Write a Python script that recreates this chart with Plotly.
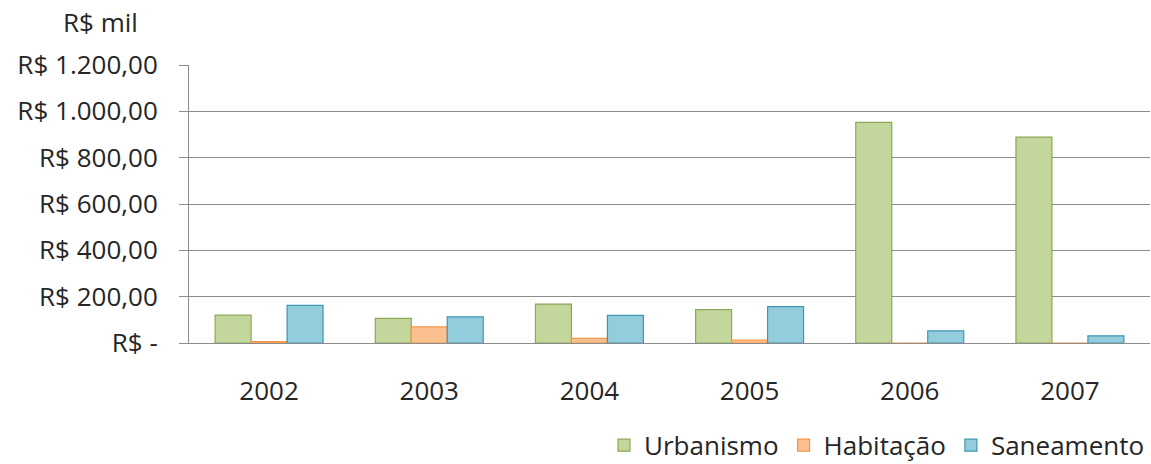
import plotly.graph_objects as go

years = ["2002", "2003", "2004", "2005", "2006", "2007"]
urbanismo = [120, 106, 168, 144, 952, 889]
habitacao = [6, 70, 20, 13, 0, 0]
saneamento = [162, 113, 119, 157, 52, 31]
tick_vals = [0, 200, 400, 600, 800, 1000, 1200]
tick_text = ["R$ -", "R$ 200,00", "R$ 400,00", "R$ 600,00", "R$ 800,00",
             "R$ 1.000,00", "R$ 1.200,00"]

FONT = "Open Sans"
TXT = "#262626"
FS = 26

fig = go.Figure()
fig.add_trace(go.Bar(name="Urbanismo", x=years, y=urbanismo,
                     marker=dict(color="#C3D69B", line=dict(color="#8EA857", width=1.2))))
fig.add_trace(go.Bar(name="Habitação", x=years, y=habitacao,
                     marker=dict(color="#FAC090", line=dict(color="#F79646", width=1.2))))
fig.add_trace(go.Bar(name="Saneamento", x=years, y=saneamento,
                     marker=dict(color="#93CDDD", line=dict(color="#3F97AE", width=1.2))))

fig.update_layout(
    width=1151, height=464,
    margin=dict(l=189, r=1, t=65, b=121, autoexpand=False),
    paper_bgcolor="white", plot_bgcolor="white",
    barmode="group", bargap=0.326, bargroupgap=0,
    font=dict(family=FONT, size=FS, color=TXT),
    showlegend=True,
    legend=dict(orientation="h", x=1.0, xanchor="right", y=-0.368, yanchor="middle",
                font=dict(size=FS, color=TXT), itemwidth=30, traceorder="normal",
                bgcolor="rgba(0,0,0,0)", tracegroupgap=0),
    annotations=[dict(text="R$ mil", xref="paper", yref="paper", x=-0.0926, y=1.0,
                      yshift=43, xanchor="center", yanchor="middle", showarrow=False,
                      font=dict(size=FS, family=FONT, color=TXT))],
)
fig.update_yaxes(range=[0, 1200], tickvals=tick_vals, ticktext=tick_text,
                 showgrid=True, gridcolor="#8C8C8C", gridwidth=1,
                 showline=True, linecolor="#8C8C8C", linewidth=1,
                 ticks="outside", ticklen=9, tickcolor="#8C8C8C",
                 ticklabelstandoff=16, zeroline=False, automargin=False)
fig.update_xaxes(showline=True, linecolor="#8C8C8C", linewidth=1,
                 ticks="", ticklabelstandoff=25, showgrid=False, automargin=False)

fig.write_html("out.html", config={"displayModeBar": False},
               post_script="document.body.style.margin='0';"
                           "document.body.style.overflow='hidden';")
